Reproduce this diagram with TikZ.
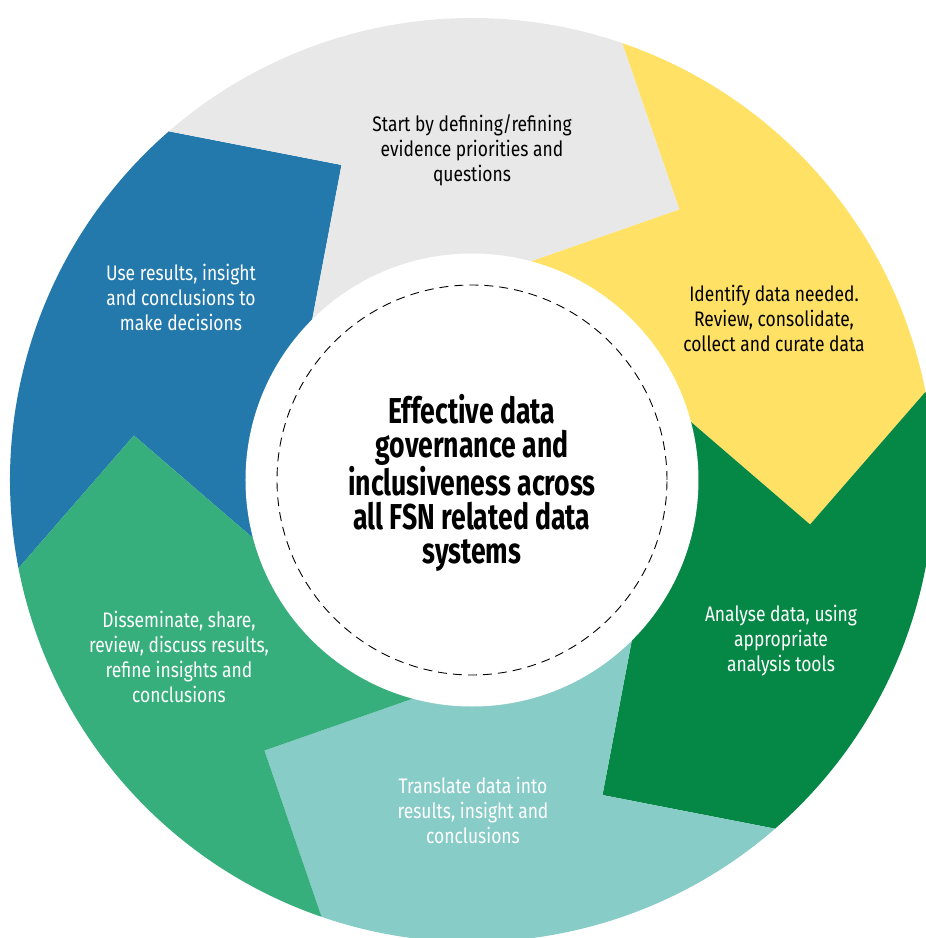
\documentclass[tikz,border=0pt]{standalone}
\usepackage{fontspec}
\newfontfamily\segfont{Fira Sans}[FakeStretch=0.83]
\newfontfamily\hubfont{Fira Sans}[FakeStretch=0.74]

\definecolor{seggrey}{HTML}{E8E8E8}
\definecolor{segyellow}{HTML}{FFE166}
\definecolor{segdark}{HTML}{058745}
\definecolor{segteal}{HTML}{88CCC8}
\definecolor{segmid}{HTML}{36AF7C}
\definecolor{segblue}{HTML}{2479AC}

\begin{document}
\begin{tikzpicture}[x=1pt, y=1pt,
        segtext/.style={align=center, font=\segfont\fontsize{21}{25}\selectfont},
        hubtext/.style={align=center, font=\hubfont\bfseries\fontsize{36}{34}\selectfont}]
        \useasboundingbox (-472,-458) rectangle (454,480);

        % ring of six arrow segments
        \fill[segblue] (191:462) arc[start angle=191, end angle=131, radius=462] -- (112.5:341) -- (137:221) arc[start angle=137, end angle=197, radius=221] -- (172.5:341) -- cycle;
        \fill[seggrey] (131:462) arc[start angle=131, end angle=71, radius=462] -- (52.5:341) -- (77:221) arc[start angle=77, end angle=137, radius=221] -- (112.5:341) -- cycle;
        \fill[segyellow] (71:462) arc[start angle=71, end angle=11, radius=462] -- (-7.5:341) -- (17:221) arc[start angle=17, end angle=77, radius=221] -- (52.5:341) -- cycle;
        \fill[segdark] (11:462) arc[start angle=11, end angle=-49, radius=462] -- (-67.5:341) -- (-43:221) arc[start angle=-43, end angle=17, radius=221] -- (-7.5:341) -- cycle;
        \fill[segteal] (-49:462) arc[start angle=-49, end angle=-109, radius=462] -- (-127.5:341) -- (-103:221) arc[start angle=-103, end angle=-43, radius=221] -- (-67.5:341) -- cycle;
        \fill[segmid] (-109:462) arc[start angle=-109, end angle=-169, radius=462] -- (-187.5:341) -- (-163:221) arc[start angle=-163, end angle=-103, radius=221] -- (-127.5:341) -- cycle;

        % hub
        \fill[white] (0,0) circle (226.5);
        \draw[dash pattern=on 9pt off 6pt, line width=0.9pt] (0,0) circle (195);

        \node[hubtext] (hub) at (0,-3) {Effective data\\governance and\\inclusiveness across\\all FSN related data\\systems};

        \node[segtext] (start) at (0,330) {Start by defining/refining\\evidence priorities and\\questions};
        \node[segtext] (collect) at (302,162) {Identify data needed.\\Review, consolidate,\\collect and curate data};
        \node[segtext, text=white] (analyse) at (309,-161) {Analyse data, using\\appropriate\\analysis tools};
        \node[segtext, text=white] (translate) at (1,-330) {Translate data into\\results, insight and\\conclusions};
        \node[segtext, text=white] (share) at (-293,-177) {Disseminate, share,\\review, discuss results,\\refine insights and\\conclusions};
        \node[segtext, text=white] (decide) at (-291,183) {Use results, insight\\and conclusions to\\make decisions};
    \end{tikzpicture}
\end{document}
